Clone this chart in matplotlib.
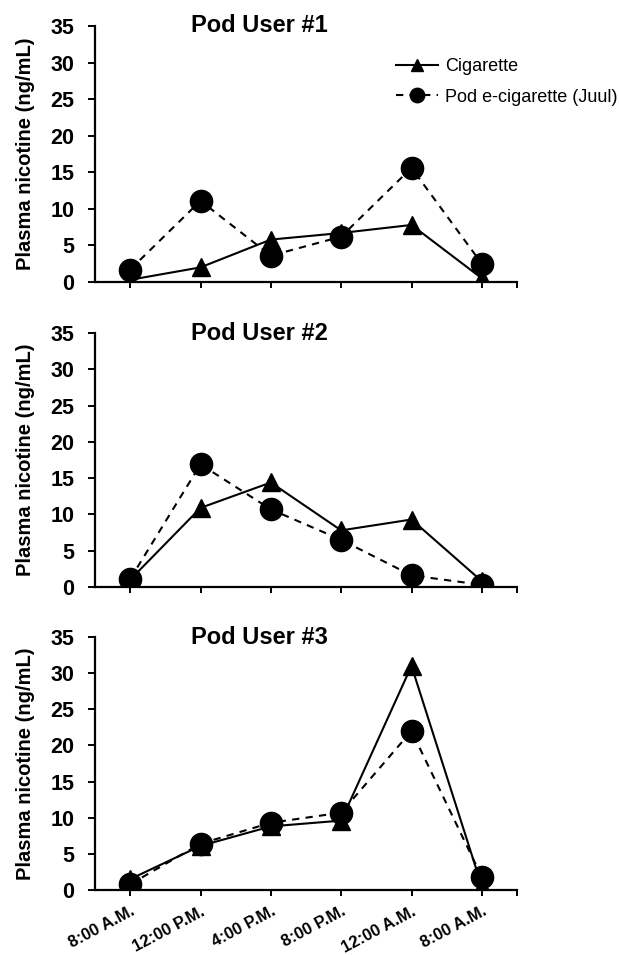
import matplotlib
matplotlib.use("Agg")
import matplotlib.pyplot as plt

plt.rcParams['font.family'] = ['Liberation Sans', 'DejaVu Sans']

times = ["8:00 A.M.", "12:00 P.M.", "4:00 P.M.", "8:00 P.M.", "12:00 A.M.", "8:00 A.M."]
titles = ["Pod User #1", "Pod User #2", "Pod User #3"]

# plasma nicotine (ng/mL)
cig_1 = [0.3, 2.0, 5.8, 6.7, 7.8, 0.5]
pod_1 = [1.7, 11.1, 3.6, 6.2, 15.6, 2.5]
cig_2 = [1.0, 10.9, 14.4, 7.8, 9.3, 0.8]
pod_2 = [1.1, 16.9, 10.7, 6.5, 1.6, 0.3]
cig_3 = [1.5, 6.1, 8.8, 9.6, 31.0, 0.5]
pod_3 = [0.8, 6.4, 9.3, 10.7, 22.0, 1.8]

cig = [cig_1, cig_2, cig_3]
pod = [pod_1, pod_2, pod_3]

W, H = 619, 955
fig = plt.figure(figsize=(W / 100, H / 100), dpi=100)

# axes boxes in pixels: (top, bottom)
boxes = [(26, 282), (333, 587), (637, 890)]
left, right = 95, 517

x = list(range(len(times)))

for i, (top, bot) in enumerate(boxes):
    ax = fig.add_axes([left / W, (H - bot) / H, (right - left) / W, (bot - top) / H])
    ax.plot(x, cig[i], color='black', lw=1.5, marker='^', ms=13,
            label='Cigarette', zorder=3)
    ax.plot(x, pod[i], color='black', lw=1.5, ls=(0, (3.5, 3)), marker='o', ms=16,
            label='Pod e-cigarette (Juul)', zorder=3)

    ax.set_xlim(-0.5, 5.5)
    ax.set_ylim(0, 35)
    ax.set_yticks(range(0, 36, 5))
    ax.set_xticks(x)
    ax.set_xticks([5.5], minor=True)
    for s in ['top', 'right']:
        ax.spines[s].set_visible(False)
    for s in ['left', 'bottom']:
        ax.spines[s].set_linewidth(1.6)
        ax.spines[s].set_clip_on(False)
    ax.tick_params(axis='y', direction='out', length=5, width=1.4, labelsize=15.5, pad=10)
    ax.tick_params(axis='x', which='both', direction='out', length=4, width=1.4)
    for lab in ax.get_yticklabels():
        lab.set_fontweight('bold')

    ax.set_ylabel("Plasma nicotine (ng/mL)", fontsize=14.5, fontweight='bold')
    ax.yaxis.set_label_coords(-0.142, 0.5)

    ax.text(0.39, 1.0, titles[i], transform=ax.transAxes, ha='center', va='center',
            fontsize=17, fontweight='bold')

    if i == 2:
        ax.set_xticklabels(times, rotation=28, ha='right', va='top',
                           rotation_mode='anchor', fontsize=12, fontweight='bold')
        ax.tick_params(axis='x', pad=6)
    else:
        ax.set_xticklabels([])

    if i == 0:
        ax.legend(loc='upper left', bbox_to_anchor=(0.713, 0.875), frameon=False,
                  fontsize=13, handlelength=2.33, handletextpad=0.39,
                  borderpad=0, borderaxespad=0, labelspacing=0.75, markerscale=0.65)

fig.savefig("out.png", dpi=100)
